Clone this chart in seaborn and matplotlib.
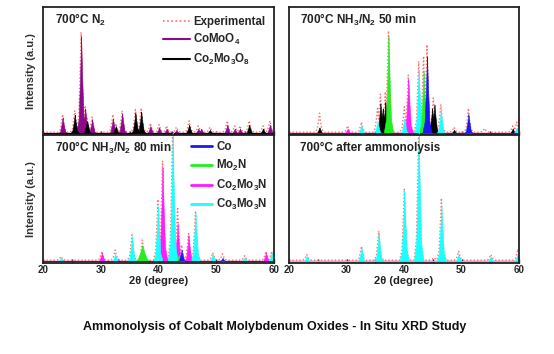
import numpy as np
import matplotlib
matplotlib.use('Agg')
import matplotlib.pyplot as plt
import seaborn as sns
from matplotlib.ticker import MultipleLocator
from matplotlib.lines import Line2D

# ---- data: peak positions (2theta, degree) and relative intensities ----
# panel 1: 700 C N2
p1_exp_pos = [23.4, 25.5, 26.6, 27.3, 27.6, 28.5, 32.1, 32.6, 33.7, 36.0, 37.0, 38.6, 40.1, 41.4,
              43.1, 45.3, 46.9, 48.9, 51.9, 53.2, 54.1, 55.7, 58.1, 59.3]
p1_exp_int = [0.14, 0.17, 0.79, 0.21, 0.12, 0.12, 0.14, 0.07, 0.17, 0.18, 0.19, 0.07, 0.06, 0.05,
              0.04, 0.09, 0.05, 0.04, 0.09, 0.05, 0.05, 0.09, 0.05, 0.09]
p1_comoo4_pos = [23.4, 26.6, 27.3, 27.7, 28.5, 32.1, 33.7, 36.4, 38.6, 40.1, 41.4, 42.3, 43.1,
                 46.9, 47.4, 51.9, 53.2, 54.1, 59.3]
p1_comoo4_int = [0.13, 0.77, 0.20, 0.09, 0.11, 0.12, 0.16, 0.04, 0.06, 0.05, 0.04, 0.02, 0.03,
                 0.04, 0.04, 0.07, 0.04, 0.04, 0.07]
p1_co2mo3o8_pos = [25.5, 27.6, 32.6, 36.0, 37.0, 45.3, 48.9, 55.7, 58.1]
p1_co2mo3o8_int = [0.15, 0.10, 0.06, 0.165, 0.175, 0.07, 0.03, 0.07, 0.04]

# panel 2: 700 C NH3/N2 50 min
p2_exp_pos = [25.3, 30.2, 32.6, 35.4, 35.9, 36.75, 37.3, 40.05, 40.75, 42.55, 43.4, 44.0, 45.1,
              46.4, 48.7, 51.2, 54.0, 58.9, 59.6]
p2_exp_int = [0.15, 0.05, 0.08, 0.20, 0.30, 0.32, 0.80, 0.20, 0.45, 0.56, 0.60, 0.69, 0.27,
              0.22, 0.04, 0.19, 0.03, 0.05, 0.08]
p2_co2mo3o8_pos = [25.3, 35.9, 36.3, 36.75, 44.9, 45.3, 48.7, 58.9]
p2_co2mo3o8_int = [0.05, 0.24, 0.20, 0.25, 0.20, 0.23, 0.03, 0.04]
p2_co2mo3n_pos = [30.2, 40.75, 59.3]
p2_co2mo3n_int = [0.04, 0.43, 0.02]
p2_co3mo3n_pos = [32.6, 35.4, 40.05, 42.55, 46.4, 59.6]
p2_co3mo3n_int = [0.07, 0.10, 0.12, 0.50, 0.19, 0.05]
p2_mo2n_pos = [37.3, 43.4]
p2_mo2n_int = [0.77, 0.49]
p2_co_pos = [44.0, 51.2]
p2_co_int = [0.61, 0.155]

# panel 3: 700 C NH3/N2 80 min
p3_exp_pos = [23.1, 30.2, 32.5, 35.4, 37.2, 39.9, 40.7, 42.45, 43.3, 44.0, 45.2, 46.4, 49.4,
              51.1, 54.9, 58.6, 59.6]
p3_exp_int = [0.03, 0.07, 0.08, 0.20, 0.16, 0.48, 0.785, 1.02, 0.42, 0.12, 0.21, 0.39, 0.06,
              0.05, 0.035, 0.07, 0.07]
p3_co2mo3n_pos = [23.3, 30.2, 33.0, 40.7, 43.3, 45.2, 58.6]
p3_co2mo3n_int = [0.02, 0.07, 0.02, 0.745, 0.30, 0.21, 0.07]
p3_co3mo3n_pos = [23.1, 32.5, 35.4, 39.9, 42.45, 46.4, 49.4, 54.9, 59.6]
p3_co3mo3n_int = [0.03, 0.06, 0.20, 0.44, 1.02, 0.39, 0.06, 0.035, 0.07]
p3_mo2n_pos = [37.2, 43.5]
p3_mo2n_int = [0.13, 0.05]
p3_co_pos = [44.0, 51.1]
p3_co_int = [0.095, 0.03]

# panel 4: 700 C after ammonolysis
p4_exp_pos = [23.1, 32.6, 35.6, 40.05, 42.55, 45.2, 46.5, 49.5, 55.1, 59.8]
p4_exp_int = [0.045, 0.11, 0.23, 0.565, 1.03, 0.02, 0.49, 0.07, 0.045, 0.09]
p4_co3mo3n_pos = [23.1, 32.6, 35.6, 40.05, 42.55, 46.5, 49.5, 55.1, 59.8]
p4_co3mo3n_int = [0.045, 0.11, 0.23, 0.565, 1.03, 0.45, 0.06, 0.04, 0.07]
p4_co2mo3n_pos = [36.3]
p4_co2mo3n_int = [0.015]

panel_titles = ['700°C N$_2$', '700°C NH$_3$/N$_2$ 50 min',
                '700°C NH$_3$/N$_2$ 80 min', '700°C after ammonolysis']

COLORS = {'Experimental': '#ff6f6f', 'CoMoO$_4$': '#8a0a8a', 'Co$_2$Mo$_3$O$_8$': '#000000',
          'Co': '#1a1aee', 'Mo$_2$N': '#22ee22', 'Co$_2$Mo$_3$N': '#ff1aff',
          'Co$_3$Mo$_3$N': '#1affff'}

sns.set_style('ticks')
plt.rcParams['font.family'] = ['Liberation Sans', 'DejaVu Sans']
plt.rcParams['font.weight'] = 'bold'
plt.rcParams['mathtext.fontset'] = 'custom'
plt.rcParams['mathtext.rm'] = 'Liberation Sans:bold'
plt.rcParams['mathtext.it'] = 'Liberation Sans:bold'
plt.rcParams['mathtext.default'] = 'rm'

grid = np.linspace(20, 60, 4001)
# peak outline used to draw each reflection (relative offsets / relative heights)
shape_dx = np.array([-1.0, -0.5, -0.2, 0.0, 0.2, 0.5, 1.0])
shape_fy = np.array([0.0, 0.15, 0.6, 1.0, 0.6, 0.15, 0.0])


def profile(pos, hts, w=0.85):
    y = np.zeros_like(grid)
    for p, h in zip(pos, hts):
        y = np.maximum(y, np.interp(grid, p + shape_dx * w, h * shape_fy, left=0, right=0))
    return y


W, H = 554, 354
fig = plt.figure(figsize=(W / 100, H / 100), dpi=100)


def add_ax(x0, y0, x1, y1):
    return fig.add_axes([x0 / W, 1 - y1 / H, (x1 - x0) / W, (y1 - y0) / H])


axes = [add_ax(43, 7, 274, 135), add_ax(289, 7, 519, 135),
        add_ax(43, 135, 274, 263), add_ax(289, 135, 519, 263)]

panels = [
    [('CoMoO$_4$', p1_comoo4_pos, p1_comoo4_int), ('Co$_2$Mo$_3$O$_8$', p1_co2mo3o8_pos, p1_co2mo3o8_int)],
    [('Co$_2$Mo$_3$O$_8$', p2_co2mo3o8_pos, p2_co2mo3o8_int), ('Co$_2$Mo$_3$N', p2_co2mo3n_pos, p2_co2mo3n_int),
     ('Co$_3$Mo$_3$N', p2_co3mo3n_pos, p2_co3mo3n_int), ('Mo$_2$N', p2_mo2n_pos, p2_mo2n_int),
     ('Co', p2_co_pos, p2_co_int)],
    [('Co$_2$Mo$_3$N', p3_co2mo3n_pos, p3_co2mo3n_int), ('Mo$_2$N', p3_mo2n_pos, p3_mo2n_int),
     ('Co$_3$Mo$_3$N', p3_co3mo3n_pos, p3_co3mo3n_int), ('Co', p3_co_pos, p3_co_int)],
    [('Co$_2$Mo$_3$N', p4_co2mo3n_pos, p4_co2mo3n_int), ('Co$_3$Mo$_3$N', p4_co3mo3n_pos, p4_co3mo3n_int)],
]
experimental = [(p1_exp_pos, p1_exp_int), (p2_exp_pos, p2_exp_int),
                (p3_exp_pos, p3_exp_int), (p4_exp_pos, p4_exp_int)]

for i, ax in enumerate(axes):
    ax.axhline(0.005, color='#8a0a8a', lw=1.0, zorder=1)
    # experimental trace sits behind the phase fills, only its tops show
    ep, ei = experimental[i]
    sns.lineplot(x=grid, y=profile(ep, ei, 0.8) + 0.012, ax=ax, color=COLORS['Experimental'],
                 linestyle=(0, (1, 1.5)), lw=1.0, zorder=1.5)
    for name, pos, hts in panels[i]:
        w = 1.6 if (i == 2 and name == 'Mo$_2$N') else 0.85
        y = profile(pos, hts, w)
        ax.fill_between(grid, 0.005, np.maximum(y, 0.005), color=COLORS[name], lw=0.4,
                        edgecolor=COLORS[name], clip_on=False, zorder=2)
    ax.set_xlim(20, 60)
    ax.set_ylim(-0.01, 1.0)
    ax.set_yticks([])
    ax.xaxis.set_major_locator(MultipleLocator(10))
    ax.xaxis.set_minor_locator(MultipleLocator(5))
    ax.tick_params(axis='x', which='both', direction='in', length=3, width=1, labelsize=7,
                   pad=1.5, color='#222222')
    for s in ax.spines.values():
        s.set_linewidth(1.3)
        s.set_color('#222222')
        s.set_zorder(4)
    ax.text(0.05 if i % 2 == 0 else 0.048, 0.9, panel_titles[i], transform=ax.transAxes,
            fontsize=8.5, fontweight='bold', va='center', ha='left', color='#222222')
    if i < 2:
        ax.set_xticklabels([])
        ax.set_xlabel('')
    else:
        ax.set_xlabel('2θ (degree)', fontsize=8, fontweight='bold', labelpad=1, color='#222222')
    if i % 2 == 0:
        ax.set_ylabel('Intensity (a.u.)', fontsize=8, fontweight='bold', labelpad=5, color='#333333')
    else:
        ax.set_ylabel('')

# legends
h1 = [Line2D([], [], color=COLORS['Experimental'], lw=1.2, linestyle=(0, (1, 1.5))),
      Line2D([], [], color=COLORS['CoMoO$_4$'], lw=1.5),
      Line2D([], [], color=COLORS['Co$_2$Mo$_3$O$_8$'], lw=1.5)]
axes[0].legend(h1, ['Experimental', 'CoMoO$_4$', 'Co$_2$Mo$_3$O$_8$'], loc='upper right',
               frameon=False, fontsize=8.3, handlelength=2.3, handletextpad=0.3,
               labelspacing=0.4, borderaxespad=0.55, borderpad=0.2)
labels3 = ['Co', 'Mo$_2$N', 'Co$_2$Mo$_3$N', 'Co$_3$Mo$_3$N']
h3 = [Line2D([], [], color=COLORS[n], lw=2) for n in labels3]
axes[2].legend(h3, labels3, loc='upper right', frameon=False, fontsize=8.3, handlelength=1.8,
               handletextpad=0.4, labelspacing=0.4, borderaxespad=0.35, borderpad=0.2)

fig.text(0.495, 1 - 327 / H, 'Ammonolysis of Cobalt Molybdenum Oxides - In Situ XRD Study',
         ha='center', va='center', fontsize=9, fontweight='bold', color='#111111')

fig.savefig('out.png', dpi=100)
